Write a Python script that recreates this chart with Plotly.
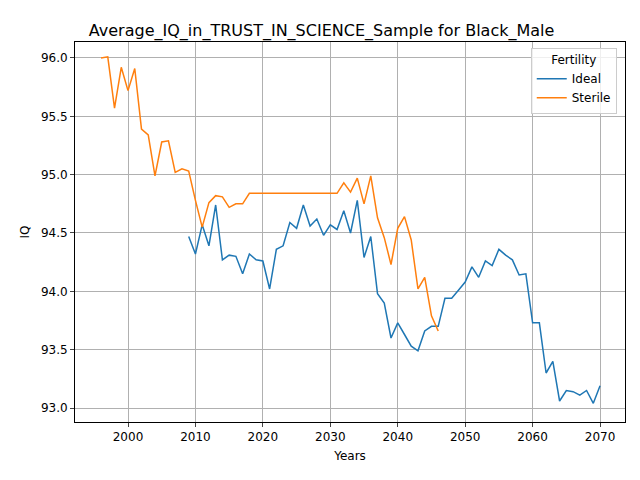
import plotly.graph_objects as go

sterile_years = list(range(1996, 2047))
sterile_iq = [96.00, 96.01, 95.57, 95.92, 95.72, 95.91, 95.39, 95.34, 94.99, 95.28,
              95.29, 95.02, 95.05, 95.03, 94.78, 94.55, 94.76, 94.82, 94.81, 94.72,
              94.75, 94.75, 94.84, 94.84, 94.84, 94.84, 94.84, 94.84, 94.84, 94.84,
              94.84, 94.84, 94.84, 94.84, 94.84, 94.84, 94.93, 94.85, 94.97, 94.75,
              94.99, 94.63, 94.46, 94.23, 94.54, 94.64, 94.44, 94.02, 94.12, 93.79,
              93.66]

ideal_years = list(range(2009, 2071))
ideal_iq = [94.47, 94.32, 94.57, 94.39, 94.74, 94.27, 94.31, 94.30, 94.15, 94.32,
            94.27, 94.26, 94.02, 94.36, 94.39, 94.59, 94.54, 94.74, 94.56, 94.62,
            94.48, 94.57, 94.53, 94.69, 94.50, 94.78, 94.29, 94.47, 93.98, 93.90,
            93.60, 93.73, 93.63, 93.53, 93.49, 93.66, 93.70, 93.70, 93.94, 93.94,
            94.01, 94.08, 94.21, 94.12, 94.26, 94.22, 94.36, 94.31, 94.27, 94.14,
            94.15, 93.73, 93.73, 93.30, 93.40, 93.06, 93.15, 93.14, 93.11, 93.15,
            93.04, 93.19]

fig = go.Figure()
fig.add_trace(go.Scatter(x=ideal_years, y=ideal_iq, name="Ideal", mode="lines",
                         line=dict(color="#1f77b4", width=1.5)))
fig.add_trace(go.Scatter(x=sterile_years, y=sterile_iq, name="Sterile", mode="lines",
                         line=dict(color="#ff7f0e", width=1.5)))

axis = dict(showgrid=True, gridcolor="#b0b0b0", gridwidth=1, showline=True, mirror=True,
            linecolor="black", linewidth=1, ticks="outside", ticklen=4, zeroline=False,
            tickfont=dict(size=12))
fig.update_layout(
    width=640, height=480,
    margin=dict(l=67, r=23, t=34, b=66),
    paper_bgcolor="white", plot_bgcolor="white",
    font=dict(family="DejaVu Sans", color="black"),
    title=dict(text="Average_IQ_in_TRUST_IN_SCIENCE_Sample for Black_Male",
               x=0.49, xanchor="center", y=0.965, font=dict(size=16)),
    xaxis=dict(axis, range=[1992.14, 2073.7], tickvals=list(range(2000, 2071, 10)),
               title=dict(text="Years", font=dict(size=12), standoff=8)),
    yaxis=dict(axis, range=[92.88, 96.137], tickvals=[93.0, 93.5, 94.0, 94.5, 95.0, 95.5, 96.0],
               ticktext=["93.0", "93.5", "94.0", "94.5", "95.0", "95.5", "96.0"],
               title=dict(text="IQ", font=dict(size=12), standoff=8)),
    legend=dict(title=dict(text="Fertility", side="top center", font=dict(size=12)),
                x=0.985, y=0.985, xanchor="right", yanchor="top", bordercolor="#cccccc",
                borderwidth=1, bgcolor="rgba(255,255,255,0.8)", font=dict(size=12)),
)
fig.write_html("out.html")
